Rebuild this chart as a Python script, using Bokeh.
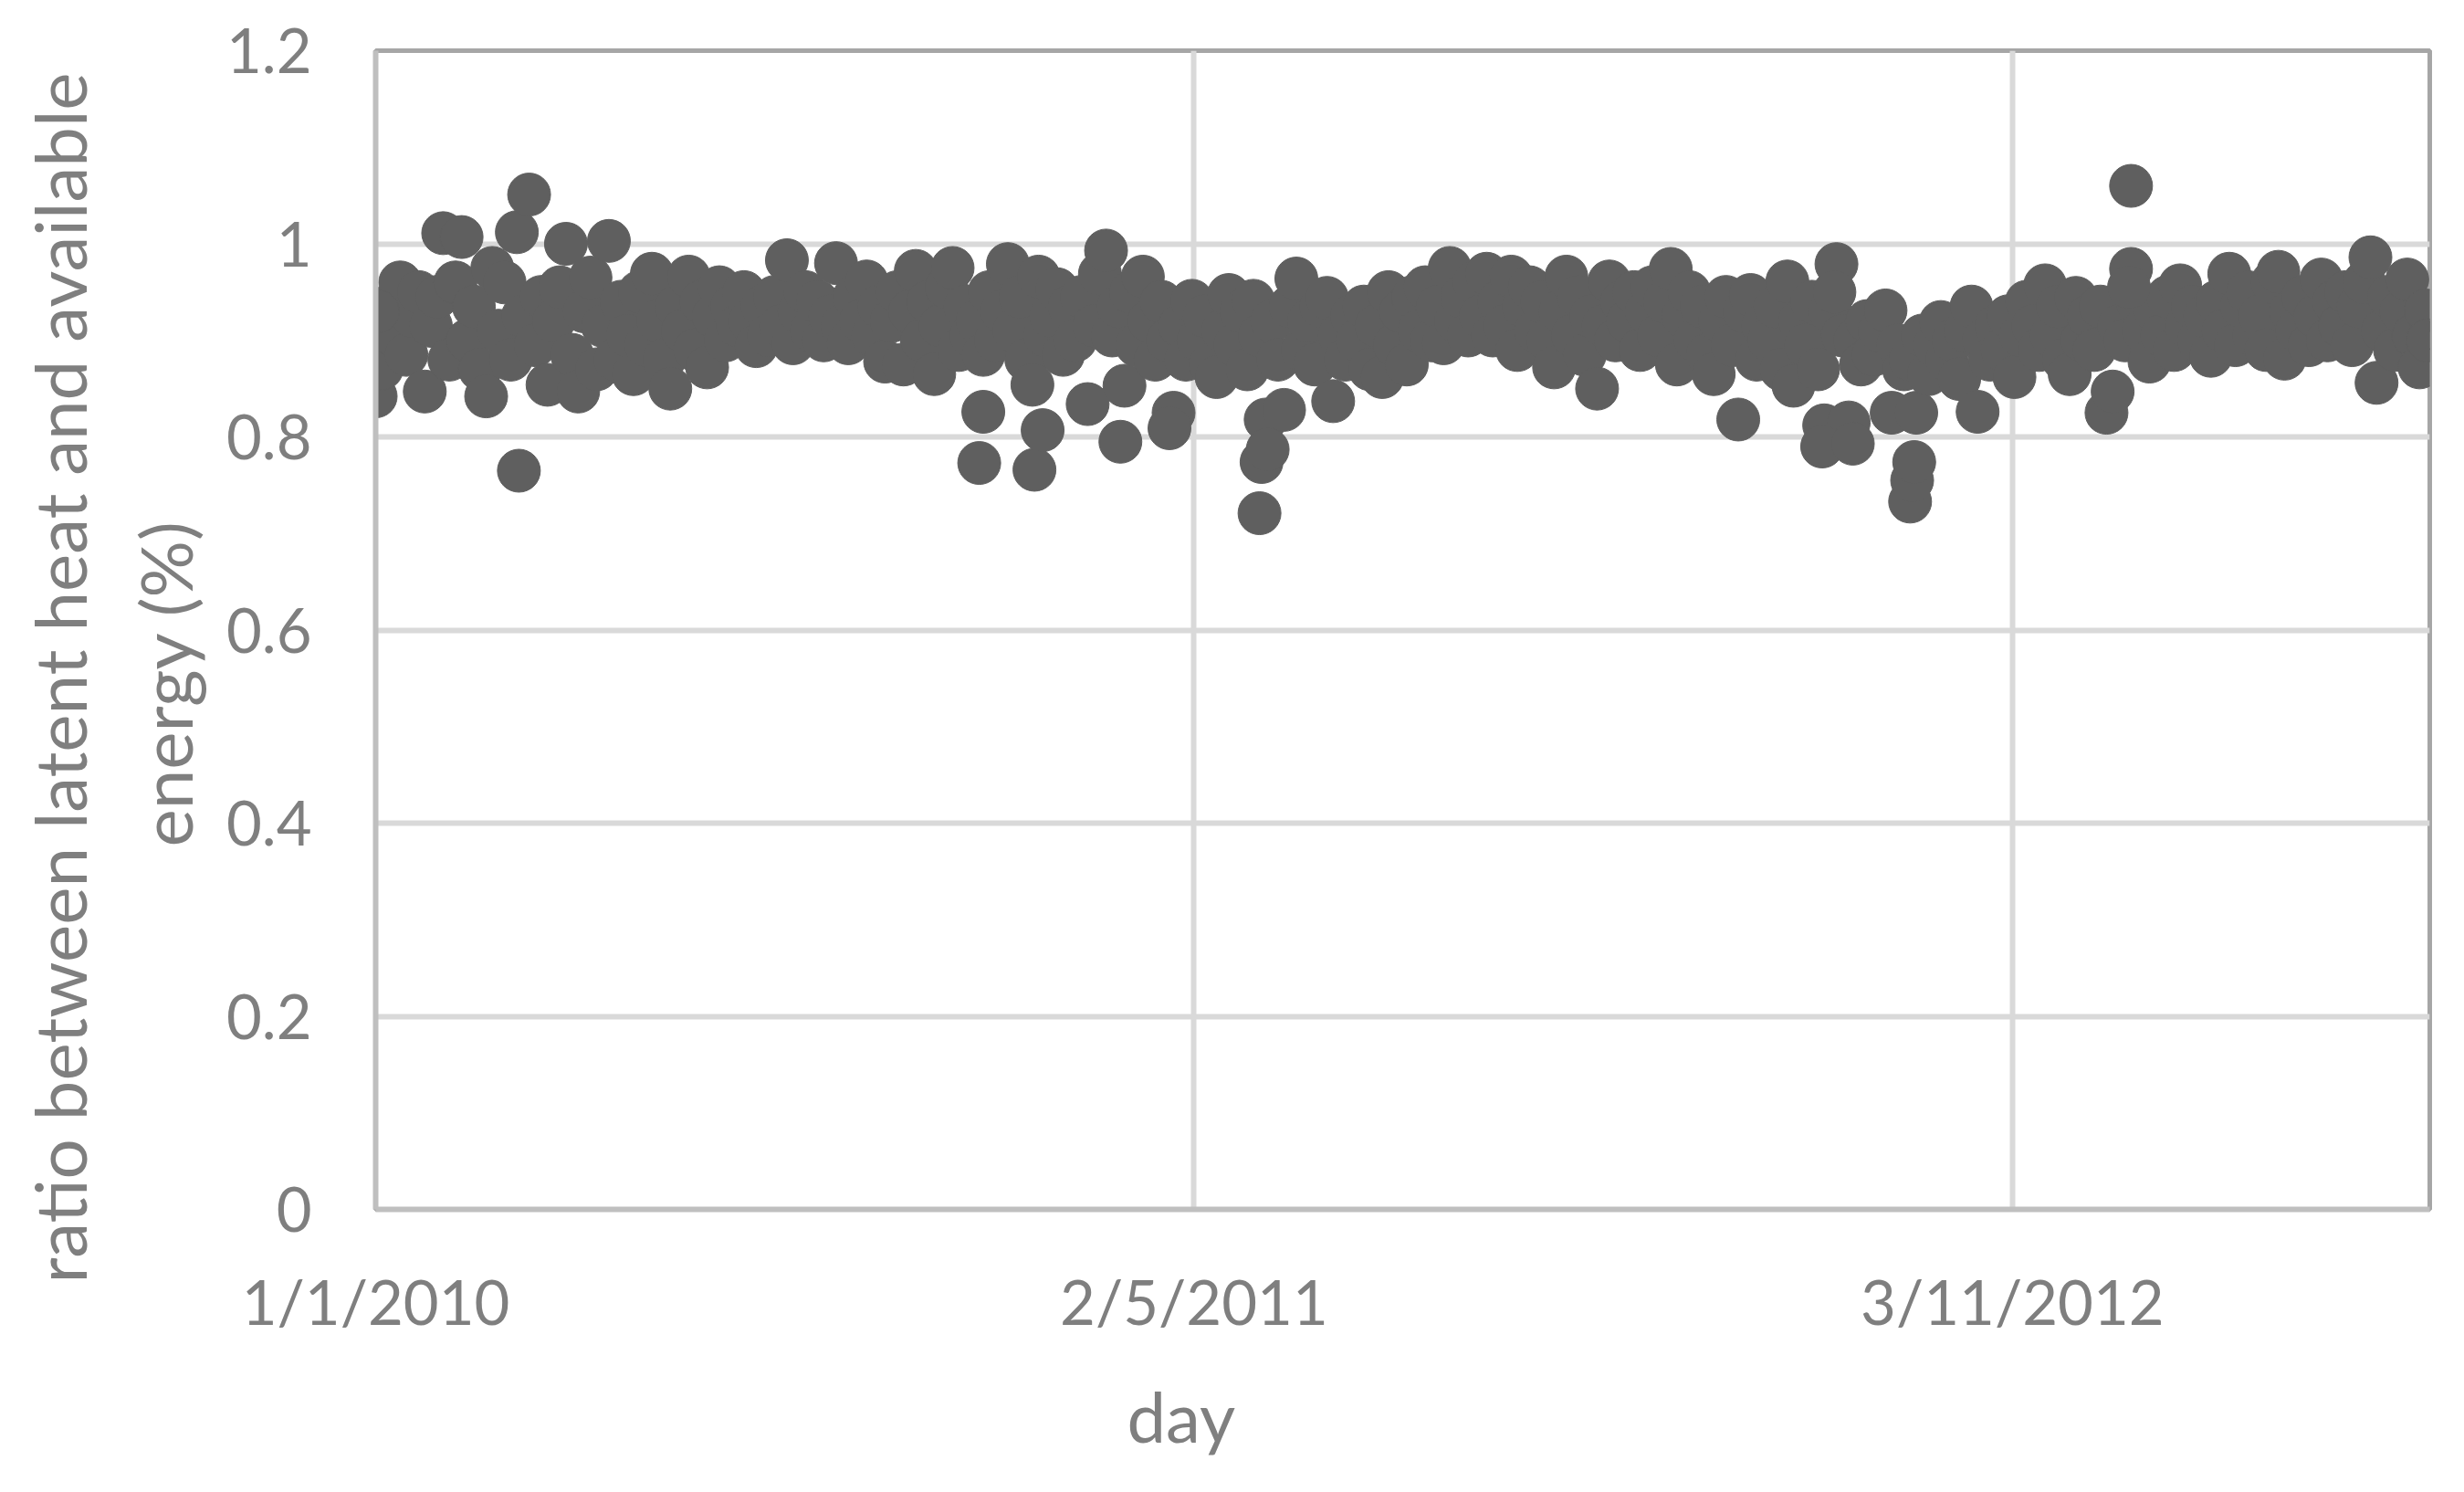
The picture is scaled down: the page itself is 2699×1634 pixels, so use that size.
from bokeh.plotting import figure
from bokeh.models import FixedTicker, CustomJSTickFormatter, Range1d, Title
from bokeh.embed import file_html
from bokeh.resources import INLINE

# ---------------- data (days counted from 1/1/2010) ----------------
band_days = list(range(0, 1004, 3))
band_ratio = [
    0.842, 0.871, 0.935, 0.905, 0.960, 0.885, 0.925, 0.950, 0.847, 0.915,
    0.945, 1.011, 0.880, 0.960, 1.007, 0.900, 0.935, 0.870, 0.842, 0.975,
    0.910, 0.960, 0.880, 1.012, 0.925, 1.051, 0.895, 0.945, 0.854, 0.920,
    0.955, 1.000, 0.885, 0.847, 0.930, 0.965, 0.870, 0.915, 1.003, 0.880,
    0.940, 0.905, 0.865, 0.950, 0.895, 0.969, 0.920, 0.880, 0.850, 0.935,
    0.910, 0.966, 0.890, 0.940, 0.872, 0.925, 0.955, 0.900, 0.935, 0.915,
    0.950, 0.920, 0.894, 0.935, 0.905, 0.945, 0.915, 0.983, 0.897, 0.930,
    0.950, 0.910, 0.940, 0.900, 0.925, 0.980, 0.915, 0.897, 0.945, 0.920,
    0.961, 0.905, 0.935, 0.878, 0.920, 0.950, 0.875, 0.930, 0.972, 0.900,
    0.940, 0.865, 0.915, 0.955, 0.975, 0.890, 0.935, 0.905, 0.920, 0.885,
    0.950, 0.900, 0.930, 0.979, 0.910, 0.945, 0.880, 0.854, 0.966, 0.905,
    0.925, 0.953, 0.885, 0.935, 0.900, 0.945, 0.834, 0.915, 0.969, 0.993,
    0.905, 0.935, 0.853, 0.950, 0.895, 0.966, 0.920, 0.880, 0.940, 0.900,
    0.825, 0.915, 0.880, 0.941, 0.900, 0.925, 0.875, 0.862, 0.910, 0.947,
    0.895, 0.930, 0.870, 0.941, 0.905, 0.818, 0.920, 0.880, 0.828, 0.935,
    0.964, 0.890, 0.920, 0.875, 0.935, 0.944, 0.837, 0.905, 0.880, 0.925,
    0.900, 0.935, 0.870, 0.915, 0.862, 0.950, 0.895, 0.930, 0.875, 0.945,
    0.910, 0.955, 0.900, 0.935, 0.897, 0.975, 0.920, 0.945, 0.905, 0.960,
    0.925, 0.969, 0.905, 0.940, 0.915, 0.966, 0.890, 0.935, 0.955, 0.910,
    0.940, 0.900, 0.872, 0.930, 0.966, 0.905, 0.945, 0.885, 0.925, 0.850,
    0.915, 0.961, 0.900, 0.940, 0.920, 0.950, 0.890, 0.930, 0.955, 0.905,
    0.940, 0.974, 0.875, 0.925, 0.950, 0.900, 0.935, 0.885, 0.865, 0.920,
    0.945, 0.895, 0.818, 0.930, 0.947, 0.880, 0.915, 0.900, 0.935, 0.870,
    0.961, 0.853, 0.920, 0.895, 0.940, 0.870, 0.812, 0.930, 0.979, 0.905,
    0.815, 0.900, 0.875, 0.920, 0.885, 0.910, 0.931, 0.825, 0.895, 0.870,
    0.880, 0.825, 0.905, 0.865, 0.895, 0.919, 0.880, 0.900, 0.860, 0.910,
    0.935, 0.826, 0.900, 0.880, 0.915, 0.890, 0.925, 0.862, 0.905, 0.940,
    0.915, 0.890, 0.957, 0.905, 0.935, 0.880, 0.865, 0.944, 0.900, 0.925,
    0.890, 0.935, 0.825, 0.847, 0.915, 0.900, 0.974, 0.940, 0.910, 0.878,
    0.930, 0.905, 0.945, 0.890, 0.957, 0.915, 0.935, 0.900, 0.925, 0.884,
    0.940, 0.910, 0.969, 0.895, 0.935, 0.950, 0.905, 0.925, 0.890, 0.960,
    0.971, 0.881, 0.930, 0.910, 0.945, 0.895, 0.925, 0.963, 0.900, 0.940,
    0.915, 0.950, 0.895, 0.935, 0.960, 0.986, 0.856, 0.910, 0.945, 0.890,
    0.930, 0.963, 0.905, 0.872, 0.931,
]
extra_days = [1, 70, 295, 297, 322, 326, 364, 388, 432, 433, 436,
              707, 713, 722, 750, 751, 752, 857, 858, 1003]
extra_ratio = [0.930, 0.765, 0.773, 0.826, 0.766, 0.807, 0.795, 0.809, 0.721, 0.774, 0.787,
               0.790, 0.950, 0.793, 0.733, 0.755, 0.774, 0.955, 1.060, 0.900]

x_tick_days = [0, 400, 800]
x_tick_labels = ["1/1/2010", "2/5/2011", "3/11/2012"]
y_ticks = [0, 0.2, 0.4, 0.6, 0.8, 1.0, 1.2]

y_title_1 = "ratio between latent heat and available"
y_title_2 = "energy (%)"
x_title = "day"

# ---------------- styling ----------------
FONT = "Lato"
TXT = "#7f7f7f"
MARK = "#5f5f5f"

p = figure(width=2690, height=1630, output_backend="svg", toolbar_location=None,
           x_range=Range1d(0, 1004), y_range=Range1d(0, 1.2),
           min_border_left=411, min_border_right=29,
           min_border_top=55, min_border_bottom=305)
p.title.visible = False
p.background_fill_color = "white"
p.border_fill_color = "white"
p.outline_line_color = "#a6a6a6"
p.outline_line_width = 5

p.xaxis.ticker = FixedTicker(ticks=x_tick_days)
p.xaxis.major_label_overrides = {d: l for d, l in zip(x_tick_days, x_tick_labels)}
p.yaxis.ticker = FixedTicker(ticks=y_ticks)
p.yaxis.formatter = CustomJSTickFormatter(
    code="var s = tick.toFixed(1); return s.endsWith('.0') ? s.slice(0, -2) : s;")

for ax in (p.xaxis, p.yaxis):
    ax.axis_line_color = "#bfbfbf"
    ax.axis_line_width = 6
    ax.major_tick_in = 0
    ax.major_tick_out = 0
    ax.minor_tick_in = 0
    ax.minor_tick_out = 0
    ax.major_label_text_font = FONT
    ax.major_label_text_font_size = "67px"
    ax.major_label_text_color = TXT
p.xaxis.major_label_standoff = 60
p.yaxis.major_label_standoff = 70

p.grid.grid_line_color = "#d9d9d9"
p.grid.grid_line_width = 6

p.scatter(band_days, band_ratio, size=47, fill_color=MARK, line_color=MARK)
p.scatter(extra_days, extra_ratio, size=47, fill_color=MARK, line_color=MARK)


def side_title(text, size, offset, standoff):
    return Title(text=text, align="left", offset=offset, standoff=standoff,
                 text_font=FONT, text_font_size=size, text_font_style="normal",
                 text_color=TXT)


# closest to the frame first
p.add_layout(side_title(y_title_2, "78px", 397, 34), "left")
p.add_layout(side_title(y_title_1, "78px", -81, 5), "left")
p.add_layout(side_title(x_title, "76px", 823, 70), "below")

open("out.html", "w").write(file_html(p, INLINE))
